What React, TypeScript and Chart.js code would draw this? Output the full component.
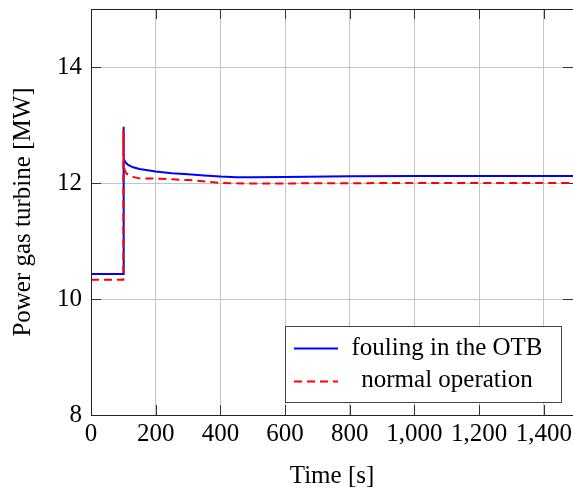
import React, { useEffect, useRef } from "react";
import { Chart, registerables } from "chart.js";

Chart.register(...registerables);

// ---- data ----
const foulingTimes = [0, 100, 100, 102, 106, 115, 130, 150, 175, 200, 250, 300, 350, 400, 450, 500, 600, 800, 1000, 1500];
const foulingPower = [10.43, 10.43, 12.97, 12.42, 12.36, 12.31, 12.27, 12.24, 12.22, 12.2, 12.17, 12.15, 12.13, 12.11, 12.1, 12.1, 12.105, 12.115, 12.12, 12.12];

const normalTimes = [0, 100, 100, 101, 104, 110, 125, 150, 200, 250, 300, 330, 360, 400, 500, 700, 1000, 1500];
const normalPower = [10.33, 10.33, 12.92, 12.35, 12.22, 12.16, 12.11, 12.08, 12.075, 12.065, 12.05, 12.04, 12.02, 12.0, 11.99, 11.995, 12.0, 12.0];

const seriesLabels = ["fouling in the OTB", "normal operation"];
const xTitle = "Time [s]";
const yTitle = "Power gas turbine [MW]";
const xMin = 0;
const xMax = 1490;
const xStep = 200;
const yMin = 8;
const yMax = 15;
const yStep = 2;

const FONT = "'Liberation Serif', 'Times New Roman', serif";

const pairs = (xs: number[], ys: number[]) => xs.map((x, i) => ({ x, y: ys[i] }));

const decorPlugin = {
  id: "decor",
  beforeDatasetsDraw(chart: any) {
    const { ctx, chartArea: a, scales } = chart;
    const L = 10;
    ctx.save();
    ctx.strokeStyle = "#333";
    ctx.lineWidth = 1;
    ctx.beginPath();
    scales.x.ticks.forEach((t: any) => {
      const px = Math.round(scales.x.getPixelForValue(t.value)) + 0.5;
      ctx.moveTo(px, a.bottom);
      ctx.lineTo(px, a.bottom - L);
      ctx.moveTo(px, a.top);
      ctx.lineTo(px, a.top + L);
    });
    scales.y.ticks.forEach((t: any) => {
      const py = Math.round(scales.y.getPixelForValue(t.value)) + 0.5;
      ctx.moveTo(a.left, py);
      ctx.lineTo(a.left + L, py);
      ctx.moveTo(a.right, py);
      ctx.lineTo(a.right - L, py);
    });
    ctx.stroke();
    ctx.restore();
  },
  afterDatasetsDraw(chart: any) {
    const { ctx, chartArea: a } = chart;
    ctx.save();
    // frame
    ctx.strokeStyle = "#222";
    ctx.lineWidth = 1;
    ctx.strokeRect(Math.round(a.left) + 0.5, Math.round(a.top) + 0.5, Math.round(a.right - a.left), Math.round(a.bottom - a.top));
    // legend
    const bx = 285.5, by = 326.5, bw = 276, bh = 76;
    ctx.fillStyle = "#fff";
    ctx.fillRect(bx, by, bw, bh);
    ctx.strokeStyle = "#444";
    ctx.strokeRect(bx, by, bw, bh);
    const rows = [
      { lineY: 348.5, baseY: 355 },
      { lineY: 381.5, baseY: 387 },
    ];
    chart.data.datasets.forEach((ds: any, i: number) => {
      const r = rows[i];
      ctx.beginPath();
      ctx.strokeStyle = ds.borderColor;
      ctx.lineWidth = ds.borderWidth;
      ctx.setLineDash(ds.borderDash || []);
      ctx.moveTo(294, r.lineY);
      ctx.lineTo(338, r.lineY);
      ctx.stroke();
      ctx.setLineDash([]);
      ctx.fillStyle = "#000";
      ctx.font = `25px ${FONT}`;
      ctx.textAlign = "center";
      ctx.textBaseline = "alphabetic";
      ctx.fillText(ds.label, 447, r.baseY);
    });
    ctx.restore();
  },
};

export default function App() {
  const ref = useRef<HTMLCanvasElement | null>(null);
  useEffect(() => {
    if (!ref.current) return;
    const chart = new Chart(ref.current, {
      type: "line",
      data: {
        datasets: [
          {
            label: seriesLabels[0],
            data: pairs(foulingTimes, foulingPower),
            borderColor: "#0000ff",
            borderWidth: 2,
            pointRadius: 0,
            tension: 0,
            fill: false,
            order: 1,
          },
          {
            label: seriesLabels[1],
            data: pairs(normalTimes, normalPower),
            borderColor: "#ff0000",
            borderWidth: 2,
            borderDash: [8, 5],
            pointRadius: 0,
            tension: 0,
            fill: false,
            order: 0,
          },
        ],
      },
      options: {
        responsive: false,
        maintainAspectRatio: false,
        animation: false,
        devicePixelRatio: 1,
        layout: { padding: { left: 0, right: 0, top: 9, bottom: 0 } },
        plugins: { legend: { display: false }, tooltip: { enabled: false } },
        scales: {
          x: {
            type: "linear",
            min: xMin,
            max: xMax,
            afterFit: (s: any) => { s.height = 76; s.paddingLeft = 0; s.paddingRight = 0; },
            ticks: {
              stepSize: xStep,
              includeBounds: false,
              autoSkip: false,
              maxRotation: 0,
              minRotation: 0,
              padding: 4,
              color: "#000",
              font: { family: FONT, size: 25 },
            },
            grid: { color: "#c4c4c4", lineWidth: 1, drawTicks: false },
            border: { display: false },
            title: {
              display: true,
              text: xTitle,
              color: "#000",
              font: { family: FONT, size: 25 },
              padding: { top: 0, bottom: 0 },
            },
          },
          y: {
            type: "linear",
            min: yMin,
            max: yMax,
            afterFit: (s: any) => { s.width = 91; s.paddingTop = 0; s.paddingBottom = 0; },
            ticks: {
              stepSize: yStep,
              includeBounds: false,
              padding: 9,
              color: "#000",
              font: { family: FONT, size: 25 },
            },
            grid: { color: "#c4c4c4", lineWidth: 1, drawTicks: false },
            border: { display: false },
            title: {
              display: true,
              text: yTitle,
              color: "#000",
              font: { family: FONT, size: 25 },
              padding: { top: 8, bottom: 0 },
            },
          },
        },
      },
      plugins: [decorPlugin],
    } as any);
    return () => chart.destroy();
  }, []);
  return (
    <div style={{ position: "fixed", left: 0, top: 0, width: 573, height: 491, background: "#fff" }}>
      <canvas ref={ref} width={573} height={491} style={{ width: 573, height: 491, display: "block" }} />
    </div>
  );
}
